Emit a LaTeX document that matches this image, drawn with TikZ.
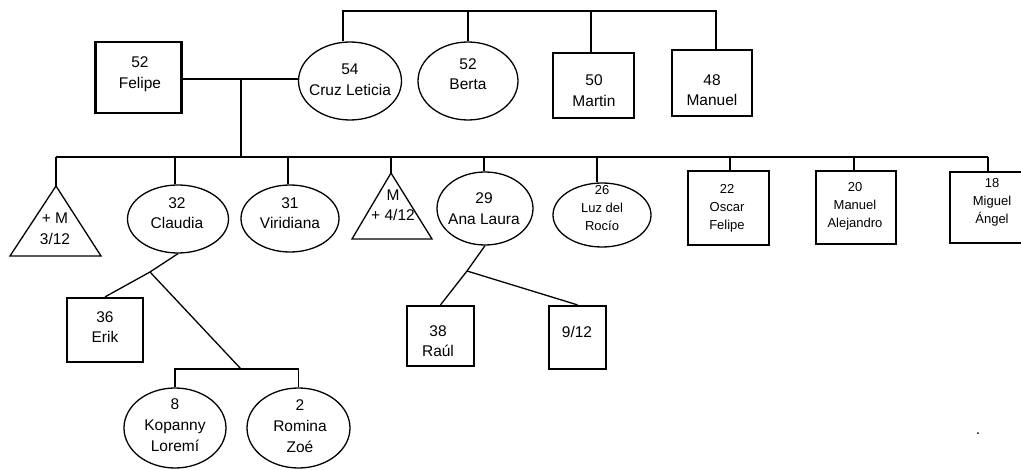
\documentclass[tikz,border=0pt]{standalone}
\usepackage{fontspec}
\setmainfont{Liberation Sans}
\usetikzlibrary{shapes.geometric}
\newcommand\bigtxt{\fontsize{15.5}{20.5}\selectfont}
\newcommand\smalltxt{\fontsize{13}{18}\selectfont}
\tikzset{
  conn/.style={line width=1.3pt},
  fem/.style={draw, ellipse, line width=1.3pt, inner sep=0pt},
  masc/.style={draw, rectangle, line width=2.2pt, inner sep=0pt},
  tri/.style={draw, line width=1.3pt, line join=miter},
  txt/.style={align=center, inner sep=0pt, font=\bigtxt},
  stxt/.style={align=center, inner sep=0pt, font=\smalltxt}
}
\begin{document}
\begin{tikzpicture}[x=1pt, y=-1pt]
\useasboundingbox (0,0) rectangle (1021,470);

% generation 1
\node[masc, minimum width=86pt, minimum height=71pt] (felipe) at (138.5,77.5) {};
\node[txt] (felipeT) at (140,74) {52\\Felipe};
\node[fem, minimum width=103pt, minimum height=78pt] (cruz) at (350,81) {};
\node[txt] (cruzT) at (350,79.5) {54\\Cruz Leticia};
\node[fem, minimum width=100pt, minimum height=78pt] (berta) at (468,81) {};
\node[txt] (bertaT) at (468,74) {52\\Berta};
\node[masc, minimum width=81pt, minimum height=65pt] (martin) at (593.5,85.5) {};
\node[txt] (martinT) at (594,90.5) {50\\Martin};
\node[masc, minimum width=80pt, minimum height=66pt] (manuel) at (712,83) {};
\node[txt] (manuelT) at (712,90) {48\\Manuel};

\coordinate (tl) at (343,11);
\coordinate (tr) at (716,11);
\coordinate (tm) at (591,11);
\draw[conn] (tl |- cruz.north) -- (tl) -- (tr) -- (tr |- manuel.north);
\draw[conn] (berta.north) -- (berta.north |- tl);
\draw[conn] (tm |- martin.north) -- (tm);

\coordinate (m) at (241,79);
\draw[conn] (felipe.east |- m) -- (cruz.west |- m);

% generation 2
\coordinate (kl) at (56,157);
\coordinate (kr) at (988,157);
\draw[conn] (m) -- (m |- kl);
\draw[conn] (kl) -- (kr);

\coordinate (tri1) at (56,186);
\draw[tri] (tri1) -- (10,256) -- (101,256) -- cycle;
\node[txt] (tri1T) at (55,228.5) {+ M\\3/12};
\draw[conn] (kl) -- (tri1);

\node[fem, minimum width=101pt, minimum height=68pt] (claudia) at (178,219) {};
\node[txt] (claudiaT) at (177,213) {32\\Claudia};
\coordinate (d2) at (175,157);
\draw[conn] (d2) -- (d2 |- claudia.north);

\node[fem, minimum width=98pt, minimum height=67pt] (viridiana) at (290,218.5) {};
\node[txt] (viridianaT) at (290,213) {31\\Viridiana};
\coordinate (d3) at (288,157);
\draw[conn] (d3) -- (d3 |- viridiana.north);

\coordinate (tri2) at (391,173);
\draw[tri] (tri2) -- (352,239) -- (432,239) -- cycle;
\node[txt] (tri2T) at (393,205) {M\\+ 4/12};
\draw[conn] (tri2 |- kl) -- (tri2);

\node[fem, minimum width=96pt, minimum height=73pt] (analaura) at (485,208.5) {};
\node[txt] (analauraT) at (484,208.5) {29\\Ana Laura};
\coordinate (d5) at (484,157);
\draw[conn] (d5) -- (d5 |- analaura.north);

\node[fem, minimum width=98pt, minimum height=64pt] (luz) at (602,215) {};
\node[stxt] (luzT) at (602,208) {26\\Luz del\\Rocío};
\coordinate (d6) at (597,157);
\draw[conn] (d6) -- (d6 |- luz.north);

\node[masc, minimum width=81pt, minimum height=74pt] (oscar) at (728.5,208) {};
\node[stxt] (oscarT) at (727,208) {22\\Oscar\\Felipe};
\coordinate (d7) at (730,157);
\draw[conn] (d7) -- (d7 |- oscar.north);

\node[masc, minimum width=80pt, minimum height=73pt] (alejandro) at (856,207.5) {};
\node[stxt] (alejandroT) at (855,206.5) {20\\Manuel\\Alejandro};
\coordinate (d8) at (854,157);
\draw[conn] (d8) -- (d8 |- alejandro.north);

\node[masc, minimum width=86pt, minimum height=71pt] (miguel) at (993,207.5) {};
\node[stxt] (miguelT) at (992,202.5) {18\\Miguel\\Ángel};
\draw[conn] (kr) -- (kr |- miguel.north);

% generation 3 (Claudia)
\node[masc, minimum width=76pt, minimum height=64pt] (erik) at (105,330) {};
\node[txt] (erikT) at (105,327) {36\\Erik};
\coordinate (cj) at (150,272);
\draw[conn] (claudia.south) -- (cj) -- (erik.north);
\coordinate (gj) at (241,369);
\draw[conn] (cj) -- (gj);

\node[fem, minimum width=102pt, minimum height=80pt] (kopanny) at (175,428) {};
\node[txt, font=\fontsize{15.5}{21}\selectfont] (kopannyT) at (175,425) {8\\Kopanny\\Loremí};
\node[fem, minimum width=103pt, minimum height=80pt] (romina) at (298.5,428) {};
\node[txt, font=\fontsize{15.5}{21}\selectfont] (rominaT) at (300,426) {2\\Romina\\Zoé};
\draw[conn] (kopanny.north) |- (gj) -| (romina.north);

% generation 3 (Ana Laura)
\node[masc, minimum width=67pt, minimum height=60pt] (raul) at (440.5,336) {};
\node[txt] (raulT) at (438,341) {38\\Raúl};
\node[masc, minimum width=57pt, minimum height=63pt] (nine) at (577.5,337.5) {};
\node[txt] (nineT) at (577,332) {9/12};
\coordinate (aj) at (467,271);
\draw[conn] (analaura.south) -- (aj) -- (raul.north);
\draw[conn] (aj) -- (nine.north);

\node[txt, anchor=base] (dot) at (978,435) {.};
\end{tikzpicture}
\end{document}
